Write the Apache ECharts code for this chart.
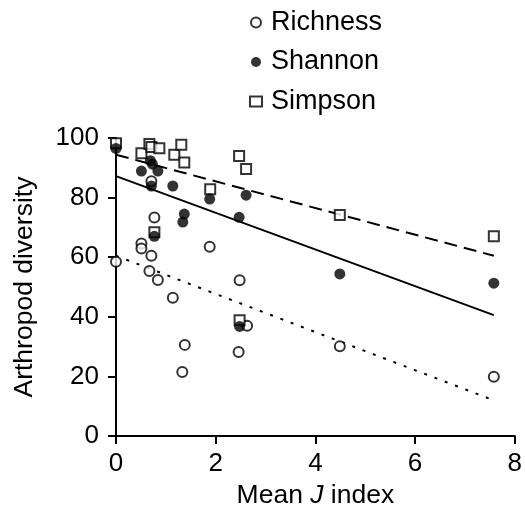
<!DOCTYPE html>
<html>
<head>
<meta charset="utf-8">
<script src="https://cdn.jsdelivr.net/npm/echarts@6/dist/echarts.min.js"></script>
<style>
  html, body { margin: 0; padding: 0; background: #fff; }
  #chart { width: 525px; height: 514px; }
</style>
</head>
<body>
<div id="chart"></div>
<script>
// points: [mean J index, diversity]
const richness = [
  [0, 58.5], [0.51, 64.6], [0.51, 62.9], [0.71, 60.5], [0.67, 55.4], [0.84, 52.4],
  [1.14, 46.4], [0.77, 73.3], [0.71, 85.5], [1.88, 63.5], [2.48, 52.3], [1.38, 30.6],
  [1.33, 21.5], [2.46, 28.2], [2.63, 37.0], [4.49, 30.1], [7.58, 19.9]
];
const shannon = [
  [0, 96.5], [0.69, 92.4], [0.73, 91.2], [0.51, 88.9], [0.84, 88.9], [0.71, 83.9],
  [1.14, 83.9], [1.37, 74.5], [1.34, 71.8], [0.77, 67.0], [1.88, 79.5], [2.61, 80.8],
  [2.47, 73.4], [2.48, 36.8], [4.49, 54.4], [7.58, 51.3]
];
const simpson = [
  [0, 98.2], [0.51, 94.9], [0.67, 98.0], [0.71, 97.0], [0.87, 96.6], [1.17, 94.4],
  [1.31, 97.7], [1.37, 91.8], [0.77, 68.4], [1.89, 82.8], [2.47, 94.0], [2.61, 89.6],
  [2.48, 38.9], [4.49, 74.2], [7.58, 67.0]
];
// regression line end points
const fitX = [0, 7.58];
const richnessFit = [60.5, 12.0];
const shannonFit = [87.2, 40.6];
const simpsonFit = [94.4, 60.5];

const xTicks = [0, 2, 4, 6, 8];
const yTicks = [0, 20, 40, 60, 80, 100];

const font = 'Liberation Sans, Arial, Helvetica, sans-serif';

function fitLine(ys) {
  return fitX.map((x, i) => [x, ys[i]]);
}

const chart = echarts.init(document.getElementById('chart'));
chart.setOption({
  animation: false,
  backgroundColor: '#fff',
  textStyle: { fontFamily: font, color: '#000' },
  grid: { left: 116, right: 9, top: 138, bottom: 74, containLabel: false },
  legend: {
    data: ['Richness', 'Shannon', 'Simpson'],
    orient: 'vertical',
    left: 244,
    top: 4,
    itemGap: 12.5,
    itemWidth: 12,
    itemHeight: 10,
    textStyle: { fontFamily: font, fontSize: 27, color: '#000', padding: [0, 0, 0, 4] }
  },
  xAxis: {
    type: 'value',
    min: xTicks[0],
    max: xTicks[xTicks.length - 1],
    interval: 2,
    splitLine: { show: false },
    axisLine: { onZero: false, lineStyle: { color: '#000', width: 2 } },
    axisTick: { length: 8, lineStyle: { color: '#000', width: 2 } },
    axisLabel: { fontSize: 26, color: '#000', margin: 15, fontFamily: font },
    name: '{a|Mean }{b|J}{a| index}',
    nameLocation: 'middle',
    nameGap: 45,
    nameTextStyle: {
      rich: {
        a: { fontSize: 26.5, color: '#000', fontFamily: font },
        b: { fontSize: 26.5, color: '#000', fontFamily: font, fontStyle: 'italic' }
      }
    }
  },
  yAxis: {
    type: 'value',
    min: yTicks[0],
    max: yTicks[yTicks.length - 1],
    interval: 20,
    splitLine: { show: false },
    axisLine: { show: true, onZero: false, lineStyle: { color: '#000', width: 2 } },
    axisTick: { show: true, length: 8, lineStyle: { color: '#000', width: 2 } },
    axisLabel: { fontSize: 26, color: '#000', margin: 17, fontFamily: font },
    name: 'Arthropod diversity',
    nameLocation: 'middle',
    nameGap: 78,
    nameTextStyle: { fontSize: 26.5, color: '#000', fontFamily: font }
  },
  series: [
    {
      type: 'line', data: fitLine(richnessFit), symbol: 'none', silent: true, z: 1,
      lineStyle: { color: '#000', width: 2, type: [3, 8] }
    },
    {
      type: 'line', data: fitLine(shannonFit), symbol: 'none', silent: true, z: 1,
      lineStyle: { color: '#000', width: 2, type: 'solid' }
    },
    {
      type: 'line', data: fitLine(simpsonFit), symbol: 'none', silent: true, z: 1,
      lineStyle: { color: '#000', width: 2, type: [13, 7] }
    },
    {
      name: 'Richness', type: 'scatter', data: richness, symbol: 'circle', symbolSize: 10, z: 2,
      itemStyle: { color: '#fff', borderColor: '#000', borderWidth: 2 }
    },
    {
      name: 'Simpson', type: 'scatter', data: simpson, symbol: 'rect', symbolSize: 10, z: 3,
      itemStyle: { color: '#fff', borderColor: '#000', borderWidth: 2 }
    },
    {
      name: 'Shannon', type: 'scatter', data: shannon, symbol: 'circle', symbolSize: 11, z: 4,
      itemStyle: { color: '#000', borderColor: '#000', borderWidth: 0 }
    }
  ]
});
</script>
</body>
</html>
